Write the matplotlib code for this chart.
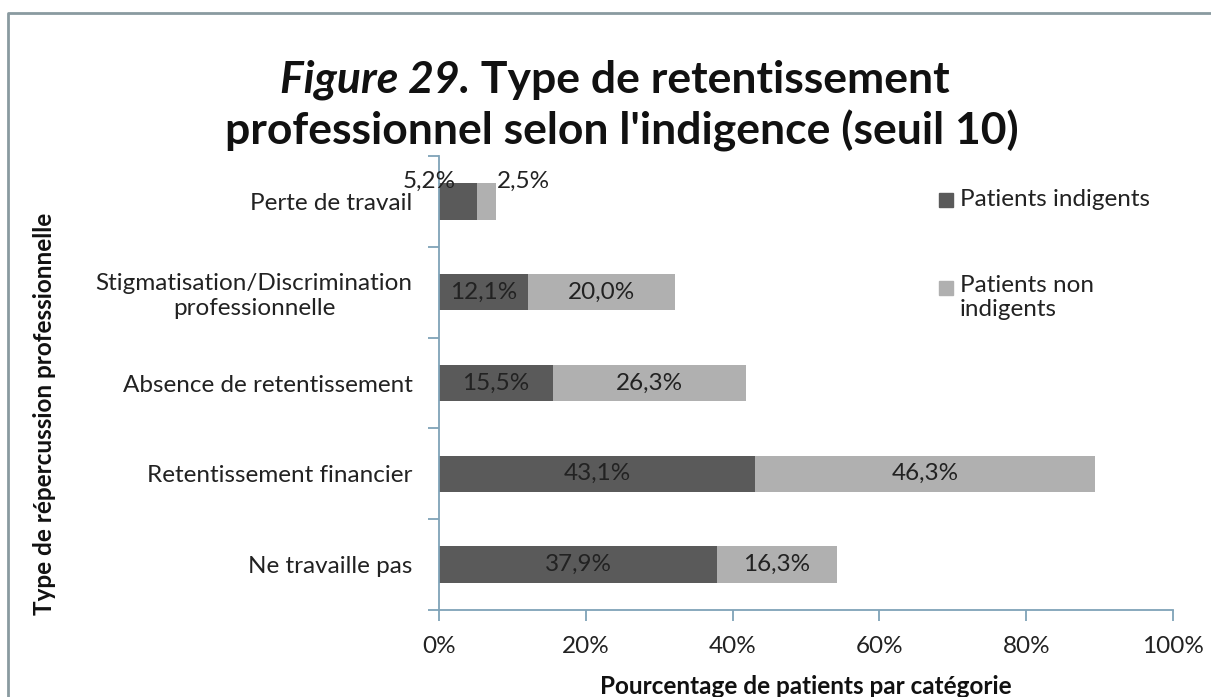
import matplotlib
matplotlib.use("Agg")
import matplotlib.pyplot as plt
from matplotlib.patches import Rectangle
from matplotlib.lines import Line2D

plt.rcParams["font.family"] = ["Lato", "DejaVu Sans"]

categories = ["Ne travaille pas", "Retentissement financier", "Absence de retentissement",
              "Stigmatisation/Discrimination\nprofessionnelle", "Perte de travail"]
indigents = [37.9, 43.1, 15.5, 12.1, 5.2]
non_indigents = [16.3, 46.3, 26.3, 20.0, 2.5]
xticks = [0, 20, 40, 60, 80, 100]

dark = "#5a5a5a"
light = "#b0b0b0"
axis_col = "#7fa3b8"
txt = "#222222"
fs = 17.5
W, H = 1211, 697

fig = plt.figure(figsize=(W / 100, H / 100), dpi=100)
ax = fig.add_axes([439 / W, 1 - 610 / H, (1173 - 439) / W, (610 - 156) / H])

y = list(range(len(categories)))
ax.barh(y, indigents, height=0.4, color=dark)
ax.barh(y, non_indigents, left=indigents, height=0.4, color=light)


def pct(v):
    return f"{v:.1f}%".replace(".", ",")


for i, (a, b) in enumerate(zip(indigents, non_indigents)):
    if a + b < 10:
        ax.annotate(pct(a), (0, i + 0.2), xytext=(-7, -6), textcoords="offset points",
                    ha="center", va="bottom", fontsize=fs, color=txt)
        ax.annotate(pct(b), (a + b, i + 0.2), xytext=(1, -6), textcoords="offset points",
                    ha="left", va="bottom", fontsize=fs, color=txt)
    else:
        ax.text(a / 2, i, pct(a), ha="center", va="center", fontsize=fs, color=txt)
        ax.text(a + b / 2, i, pct(b), ha="center", va="center", fontsize=fs, color=txt)

ax.set_xlim(0, 100)
ax.set_ylim(-0.5, len(categories) - 0.5)
ax.set_xticks(xticks, [f"{t}%" for t in xticks], fontsize=fs, color=txt)
ax.set_yticks(y, categories, fontsize=fs, color=txt, multialignment="center")
ax.tick_params(axis="y", length=0, pad=19)
ax.set_yticks([k - 0.5 for k in range(len(categories) + 1)], minor=True)
ax.tick_params(axis="y", which="minor", length=8, color=axis_col, width=1.3)
ax.tick_params(axis="x", length=8, color=axis_col, width=1.3, pad=11)
for s in ["top", "right"]:
    ax.spines[s].set_visible(False)
for s in ["left", "bottom"]:
    ax.spines[s].set_color(axis_col)
    ax.spines[s].set_linewidth(1.3)

fig.text(806 / W, 1 - 687 / H, "Pourcentage de patients par catégorie", ha="center", va="center",
         fontsize=fs, fontweight="bold", color="#111111")
fig.text(45 / W, 1 - 414 / H, "Type de répercussion professionnelle", ha="center", va="center",
         rotation=90, fontsize=fs, fontweight="bold", color="#111111")

# title: italic part + bold part, centred together
tfs = 32
ta = fig.text(0, 1 - 80 / H, "Figure 29.", ha="left", va="center",
              fontsize=tfs, fontweight="bold", style="italic", color="#111111")
tb = fig.text(0, 1 - 80 / H, " Type de retentissement", ha="left", va="center",
              fontsize=tfs, fontweight="bold", color="#111111")
r = fig.canvas.get_renderer()
wa = ta.get_window_extent(r).width
wb = tb.get_window_extent(r).width
x0 = 615 - (wa + wb) / 2
ta.set_x(x0 / W)
tb.set_x((x0 + wa) / W)
fig.text(622 / W, 1 - 131 / H, "professionnel selon l'indigence (seuil 10)", ha="center", va="center",
         fontsize=tfs, fontweight="bold", color="#111111")

# legend
fig.add_artist(Rectangle((939 / W, 1 - 207 / H), 14 / W, 14 / H, color=dark, transform=fig.transFigure))
fig.text(960 / W, 1 - 199 / H, "Patients indigents", ha="left", va="center", fontsize=fs, color=txt)
fig.add_artist(Rectangle((939 / W, 1 - 295 / H), 14 / W, 14 / H, color=light, transform=fig.transFigure))
fig.text(960 / W, 1 - 275 / H, "Patients non\nindigents", ha="left", va="top", fontsize=fs,
         color=txt, linespacing=1.2)

# figure frame (top and left)
fig.add_artist(Line2D([8 / W, 8 / W, 1], [0, 1 - 13 / H, 1 - 13 / H], color="#8a9aa0", lw=2,
                      transform=fig.transFigure))

fig.savefig("out.png", dpi=100)
